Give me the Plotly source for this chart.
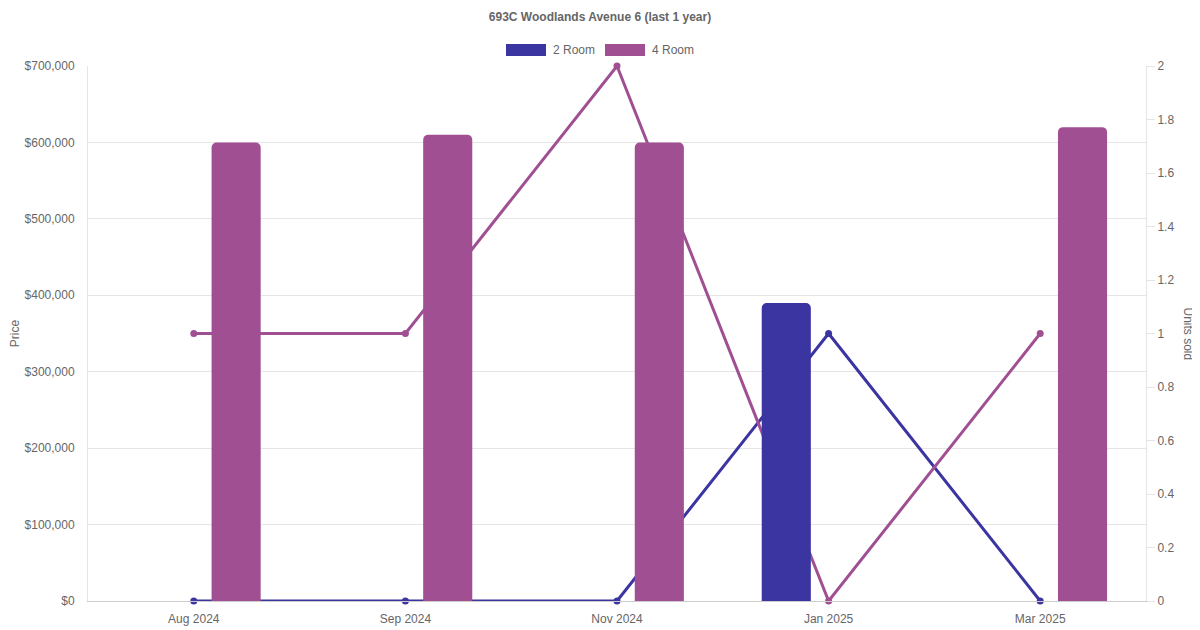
import plotly.graph_objects as go

months = ["Aug 2024", "Sep 2024", "Nov 2024", "Jan 2025", "Mar 2025"]
price_2room = [None, None, None, 390000, None]
price_4room = [600000, 610000, 600000, None, 620000]
units_2room = [0, 0, 0, 1, 0]
units_4room = [1, 1, 2, 0, 1]
price_ticks = [0, 100000, 200000, 300000, 400000, 500000, 600000, 700000]
unit_ticks = [0, 0.2, 0.4, 0.6, 0.8, 1, 1.2, 1.4, 1.6, 1.8, 2]

C2 = "#3a35a0"
C4 = "#a05092"
FONT = "Liberation Sans, Arial, sans-serif"
GREY = "#666666"

# The page body has an 8px margin, so the figure is sized to end at the window edge
OFF = 8
W, H = 1200 - OFF, 630 - OFF
PL, PR, PT, PB = 88, 1146, 66, 601  # plot area in window pixels
PW, PH = PR - PL, PB - PT

fig = go.Figure()

# Lines (units sold) on primary y (right side), drawn beneath the bars
fig.add_trace(go.Scatter(x=months, y=units_2room, mode="lines+markers", name="2 Room units",
                         line=dict(color=C2, width=3), marker=dict(color=C2, size=7),
                         yaxis="y", showlegend=False, cliponaxis=False))
fig.add_trace(go.Scatter(x=months, y=units_4room, mode="lines+markers", name="4 Room units",
                         line=dict(color=C4, width=3), marker=dict(color=C4, size=7),
                         yaxis="y", showlegend=False, cliponaxis=False))

# Bars (price) on overlay axis (left side)
fig.add_trace(go.Bar(x=months, y=price_2room, name="2 Room",
                     marker=dict(color=C2, cornerradius=5, line=dict(width=0)),
                     yaxis="y2", showlegend=False))
fig.add_trace(go.Bar(x=months, y=price_4room, name="4 Room",
                     marker=dict(color=C4, cornerradius=5, line=dict(width=0)),
                     yaxis="y2", showlegend=False))

fig.update_layout(
    width=W, height=H,
    margin=dict(l=PL - OFF, r=1200 - PR, t=PT - OFF, b=630 - PB, autoexpand=False),
    paper_bgcolor="white", plot_bgcolor="white",
    font=dict(family=FONT, size=12, color=GREY),
    barmode="group", bargap=0.2, bargroupgap=0.42,
    showlegend=False,
    title=dict(text="<b>693C Woodlands Avenue 6 (last 1 year)</b>", x=(600 - OFF) / W, xanchor="center",
               xref="container", yref="container",
               y=1 - (17 - OFF) / H, yanchor="middle", font=dict(size=12, color=GREY, family=FONT)),
    xaxis=dict(type="category", showgrid=False, showline=True, linecolor="#cccccc", linewidth=1,
               ticks="outside", ticklen=7, tickcolor="rgba(0,0,0,0)", tickfont=dict(size=12, color=GREY),
               zeroline=False, range=[-0.5, 4.5], automargin=False),
    yaxis=dict(side="right", range=[0, 2], tickvals=unit_ticks, showgrid=False, zeroline=False,
               showline=True, linecolor="#e5e5e5", linewidth=1, ticks="outside", ticklen=8,
               tickcolor="#e5e5e5", tickfont=dict(size=12, color=GREY), fixedrange=True,
               automargin=False),
    yaxis2=dict(side="left", overlaying="y", range=[0, 700000], tickvals=price_ticks,
                tickformat="$,", showgrid=True, gridcolor="#e5e5e5", gridwidth=1, zeroline=False,
                showline=True, linecolor="#e5e5e5", linewidth=1, ticks="outside", ticklen=10,
                tickcolor="rgba(0,0,0,0)", tickfont=dict(size=12, color=GREY), automargin=False,
                title=dict(text="Price", font=dict(size=12, color=GREY), standoff=6)),
)

# Custom legend (wide boxes like the reference)
legend_items = [("2 Room", C2, 506), ("4 Room", C4, 605)]
for label, color, x0 in legend_items:
    fig.add_shape(type="rect", xref="paper", yref="paper",
                  x0=(x0 - PL) / PW, x1=(x0 + 40 - PL) / PW,
                  y0=1 + (PT - 56) / PH, y1=1 + (PT - 44) / PH,
                  fillcolor=color, line=dict(width=0))
    fig.add_annotation(text=label, xref="paper", yref="paper",
                       x=(x0 + 45 - PL) / PW, y=1 + (PT - 50) / PH,
                       xanchor="left", yanchor="middle", showarrow=False,
                       font=dict(size=12, color=GREY, family=FONT))

# Right axis title reading top-to-bottom
fig.add_annotation(text="Units sold", xref="paper", yref="paper",
                   x=(1188 - PL) / PW, y=0.5, textangle=90, showarrow=False,
                   xanchor="center", yanchor="middle", font=dict(size=12, color=GREY, family=FONT))

fig.write_html("out.html")
